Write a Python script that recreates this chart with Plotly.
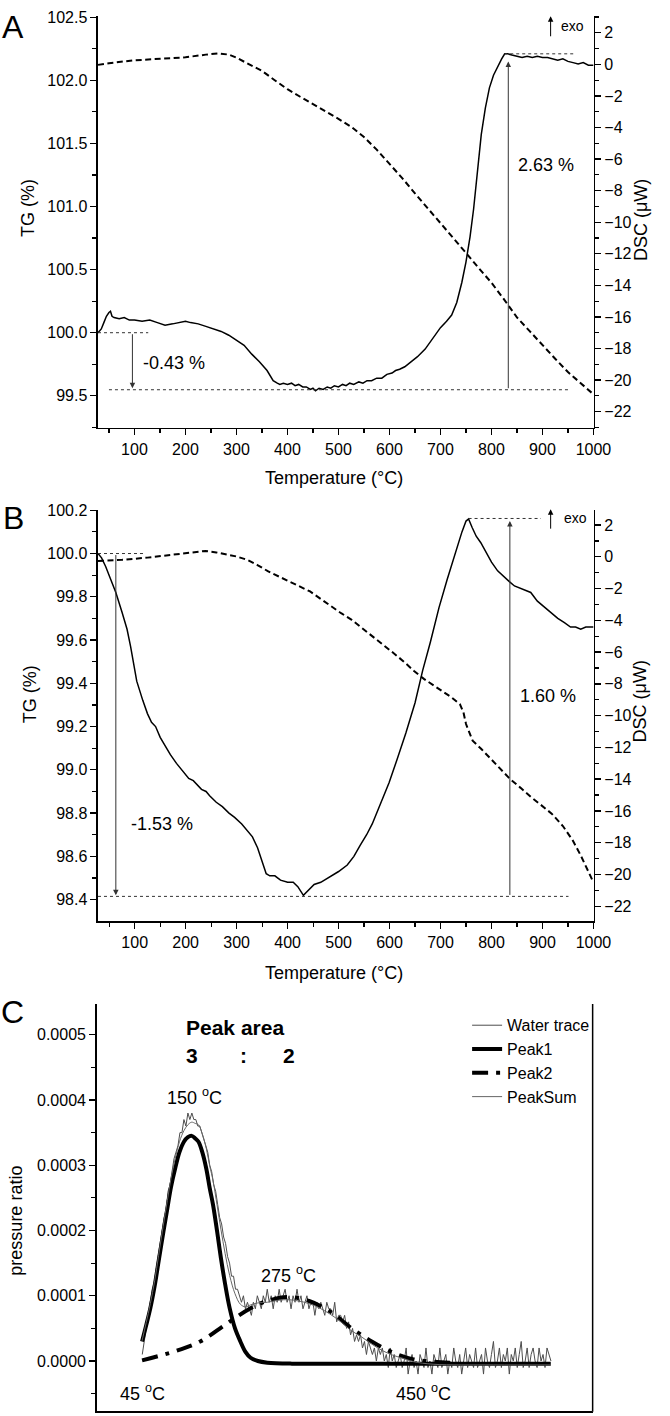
import plotly.graph_objects as go

W, H = 670, 1416
def fx(p):
    return p / W
def fy(p):
    return 1 - p / H

# ---------------- Panel A ----------------
a_temp_tg = [28.5, 35, 40, 45, 50, 53, 56, 60, 70, 80, 90, 100, 115, 130, 145, 160, 175, 190, 200, 210,
             225, 240, 255, 270, 285, 300, 315, 330, 345, 360, 372, 380, 385, 392, 400, 408, 415, 422, 430, 437,
             445, 450, 455, 462, 470, 478, 485, 492, 500, 508, 515, 522, 530, 540, 548, 556, 565, 575, 585, 595,
             605, 612, 620, 630, 640, 655, 670, 685, 700, 712, 722, 732, 742, 750, 758,
             765, 772, 780, 788, 796, 804, 812, 820, 826, 832, 840, 850, 860, 870, 880, 890, 900, 910, 920, 930,
             940, 950, 960, 970, 980, 990, 1000]
a_tg = [100.00, 100.03, 100.08, 100.13, 100.16, 100.17, 100.13, 100.12, 100.11, 100.12, 100.10, 100.10, 100.09, 100.10, 100.08, 100.06, 100.07, 100.08, 100.09, 100.08,
        100.07, 100.05, 100.03, 100.01, 99.98, 99.94, 99.90, 99.83, 99.77, 99.70, 99.62, 99.60, 99.59, 99.60, 99.59, 99.60, 99.58, 99.59, 99.57, 99.57,
        99.55, 99.56, 99.54, 99.56, 99.55, 99.57, 99.56, 99.58, 99.57, 99.59, 99.58, 99.60, 99.59, 99.61, 99.60, 99.62, 99.62, 99.64, 99.64, 99.67,
        99.68, 99.70, 99.71, 99.73, 99.76, 99.81, 99.87, 99.96, 100.04, 100.09, 100.14, 100.24, 100.40, 100.56, 100.76,
        100.98, 101.25, 101.57, 101.78, 101.94, 102.04, 102.11, 102.17, 102.21, 102.21, 102.20, 102.19, 102.18, 102.19, 102.18, 102.19, 102.18, 102.18, 102.17, 102.16,
        102.17, 102.15, 102.14, 102.13, 102.14, 102.12, 102.12]
a_temp_dsc = [28.5, 50, 100, 150, 200, 240, 265, 285, 300, 325, 350, 375, 400, 425, 450, 475, 500, 525, 550, 575,
              600, 625, 650, 675, 700, 725, 750, 775, 800, 825, 850, 875, 900, 925, 950, 975, 1000]
a_dsc = [-0.03, 0.08, 0.26, 0.36, 0.45, 0.62, 0.70, 0.62, 0.43, 0.00, -0.41, -1.00, -1.57, -2.05, -2.51, -2.98, -3.45, -3.95, -4.60, -5.40,
         -6.28, -7.20, -8.17, -9.10, -10.05, -11.00, -11.94, -12.90, -13.83, -14.90, -16.03, -16.90, -17.81, -18.65, -19.49, -20.20, -20.90]

# ---------------- Panel B ----------------
b_temp_tg = [28, 35, 43, 50, 63, 75, 85, 92, 104, 116, 125, 133, 141, 150, 157, 170, 182, 195, 206, 215,
             231, 240, 247, 260, 272, 285, 296, 310, 321, 331, 341, 350, 358, 365, 375, 386, 400, 411, 420, 431,
             440, 452, 465, 485, 500, 517, 530, 542, 555, 566, 580, 599, 615, 632, 650, 665, 680, 697, 713, 730,
             742, 750, 755, 762, 770, 779, 790, 800, 812, 825, 835, 845, 855, 865, 877, 890, 900, 910, 920, 930,
             943, 955, 965, 975, 985, 1000]
b_tg = [100.00, 99.98, 99.94, 99.90, 99.82, 99.73, 99.65, 99.57, 99.41, 99.32, 99.26, 99.22, 99.20, 99.15, 99.12, 99.07, 99.03, 98.99, 98.96, 98.95,
        98.91, 98.90, 98.88, 98.85, 98.83, 98.80, 98.78, 98.75, 98.72, 98.69, 98.64, 98.58, 98.52, 98.51, 98.51, 98.49, 98.48, 98.48, 98.46, 98.42,
        98.44, 98.47, 98.48, 98.51, 98.53, 98.56, 98.60, 98.65, 98.70, 98.75, 98.83, 98.94, 99.05, 99.17, 99.31, 99.46, 99.59, 99.75, 99.88, 100.01,
        100.10, 100.15, 100.16, 100.12, 100.08, 100.05, 100.00, 99.96, 99.92, 99.89, 99.87, 99.85, 99.84, 99.83, 99.82, 99.78, 99.76, 99.74, 99.72, 99.70,
        99.68, 99.66, 99.66, 99.65, 99.66, 99.66]
b_temp_dsc = [28, 75, 125, 175, 223, 239, 260, 280, 300, 321, 340, 362, 385, 403, 425, 444, 465, 485, 505, 525,
              545, 566, 585, 607, 628, 648, 668, 689, 705, 722, 738, 745, 750, 757, 763, 780, 795, 815, 836, 857,
              877, 898, 918, 940, 959, 975, 985, 1000]
b_dsc = [-0.26, -0.19, -0.05, 0.12, 0.29, 0.37, 0.28, 0.16, 0.02, -0.19, -0.50, -0.92, -1.27, -1.55, -1.88, -2.18, -2.65, -3.12, -3.55, -3.95,
         -4.45, -5.00, -5.50, -6.04, -6.60, -7.19, -7.70, -8.13, -8.50, -8.86, -9.28, -9.80, -10.53, -11.10, -11.58, -12.10, -12.62, -13.30, -13.98, -14.55,
         -15.12, -15.65, -16.17, -16.95, -17.84, -18.80, -19.50, -20.50]

# ---------------- Panel C (values in units of 1e-5) ----------------
C_UNIT = 1e-5
c_trace_x0 = 9.2
c_trace_dx = 0.4
c_trace = [1, 3, 5, 7, 9, 11, 12, 14, 16, 18,
           20, 22, 23, 26, 27, 29, 31, 32, 33, 35,
           35, 37, 36, 38, 37, 38, 37, 37, 36, 36,
           35, 34, 33, 32, 30, 29, 27, 26, 24, 22,
           21, 19, 18, 16, 15, 13, 13, 11, 11, 10,
           9, 10, 8, 9, 8, 7, 9, 8, 10, 9,
           8, 10, 9, 11, 9, 10, 8, 10, 9, 11,
           9, 10, 11, 9, 10, 8, 10, 9, 11, 9,
           10, 8, 9, 10, 8, 9, 9, 7, 9, 8,
           9, 8, 7, 9, 8, 8, 7, 9, 6, 7,
           7, 6, 7, 5, 6, 4, 5, 3, 4, 3,
           4, 2, 3, 1, 3, 2, 1, 2, 0, 2,
           1, 2, 0, 1, -1, 2, 0, 1, -1, 0,
           1, -1, 0, 2, -2, 0, 1, -1, 0, -2,
           1, 0, -1, 2, -1, 0, -2, 1, 0, -1,
           2, -1, 0, 1, -2, 0, -1, 2, 0, -1,
           1, -2, 0, 2, -1, 1, 0, -1, 2, -1,
           0, 1, -2, 2, 0, -1, 1, 3, -1, 0,
           2, -1, 1, 0, 2, -2, 1, 0, 2, -1,
           1, 3, -1, 0, 2, -1, 1, 2, 0, -1,
           2, 0, 1, -1, 2, 1, 0]
c_trace_xs = [c_trace_x0 + i * c_trace_dx for i in range(len(c_trace))]

c_peak1_x = [9.16, 10.0, 10.83, 11.7, 12.5, 13.4, 14.26, 15.0, 15.83, 16.7, 17.6, 18.4, 19.17, 19.9, 20.54, 21.3,
             22.1, 22.8, 23.48, 24.3, 25.05, 25.9, 26.82, 27.9, 28.98, 30.0, 31.04, 32.5, 34.41, 39.38, 50, 70, 91.56]
c_peak1 = [3.0, 5.5, 8.1, 11.5, 15.3, 19.5, 23.4, 26.7, 29.5, 32.0, 33.6, 34.3, 34.5, 34.1, 33.6, 32.0,
           29.5, 26.5, 23.9, 19.8, 15.8, 11.8, 8.1, 5.0, 3.0, 1.4, 0.5, 0.0, -0.25, -0.4, -0.4, -0.4, -0.4]

c_peak2_x = [9.16, 15.83, 20.9, 26.0, 31.04, 34.41, 38.59, 42.83, 47.03, 51.25, 55.46, 59.7, 63.9, 68.0, 72.0]
c_peak2 = [0.1, 1.5, 3.0, 5.6, 8.1, 9.2, 9.8, 9.2, 7.6, 5.1, 3.0, 1.3, 0.25, -0.1, -0.3]

c_sum_x = [9.16, 10.0, 10.83, 11.7, 12.5, 13.4, 14.26, 15.0, 15.83, 16.7, 17.6, 18.4, 19.17, 19.9, 20.54, 21.3,
           22.1, 22.8, 23.48, 24.3, 25.05, 25.9, 26.82, 27.9, 28.98, 30.0, 31.04, 32.5, 34.41, 36.5, 38.59, 40.7,
           42.83, 45.0, 47.03, 49.1, 51.25, 53.4, 55.46, 57.6, 59.7, 61.8, 63.9, 68.0, 80.0, 91.56]
c_sum = [3.1, 5.9, 8.8, 12.3, 16.2, 20.6, 24.6, 28.0, 31.0, 33.6, 35.3, 36.2, 36.6, 36.4, 36.2, 34.8,
         32.6, 29.9, 27.6, 23.8, 20.2, 16.5, 13.1, 10.3, 8.7, 8.3, 8.6, 8.9, 9.0, 9.3, 9.4, 9.2,
         8.8, 8.1, 7.2, 6.1, 4.7, 3.7, 2.6, 1.6, 0.9, 0.4, -0.1, -0.5, -0.6, -0.6]

def scale(v):
    return [x * C_UNIT for x in v]

FONT = "Arial, Liberation Sans, sans-serif"
fig = go.Figure()

solid = dict(color="black", width=1.5)
dashed = dict(color="black", width=2, dash="6px,3.5px")

fig.add_trace(go.Scatter(x=a_temp_tg, y=a_tg, xaxis="x", yaxis="y", mode="lines", line=solid, showlegend=False))
fig.add_trace(go.Scatter(x=a_temp_dsc, y=a_dsc, xaxis="x", yaxis="y2", mode="lines", line=dashed, showlegend=False))
fig.add_trace(go.Scatter(x=b_temp_tg, y=b_tg, xaxis="x2", yaxis="y3", mode="lines", line=solid, showlegend=False))
fig.add_trace(go.Scatter(x=b_temp_dsc, y=b_dsc, xaxis="x2", yaxis="y4", mode="lines", line=dashed, showlegend=False))

fig.add_trace(go.Scatter(x=c_trace_xs, y=scale(c_trace), xaxis="x3", yaxis="y5", mode="lines",
                         line=dict(color="#4d4d4d", width=1), name="Water trace"))
fig.add_trace(go.Scatter(x=c_peak1_x, y=scale(c_peak1), xaxis="x3", yaxis="y5", mode="lines",
                         line=dict(color="black", width=4, shape="spline"), name="Peak1"))
fig.add_trace(go.Scatter(x=c_peak2_x, y=scale(c_peak2), xaxis="x3", yaxis="y5", mode="lines",
                         line=dict(color="black", width=4, dash="16px,8px,4px,8px", shape="spline"), name="Peak2"))
fig.add_trace(go.Scatter(x=c_sum_x, y=scale(c_sum), xaxis="x3", yaxis="y5", mode="lines",
                         line=dict(color="#666666", width=1, shape="spline"), name="PeakSum"))

axis_common = dict(showline=True, linecolor="black", linewidth=1.5, ticks="outside", ticklen=6,
                   tickwidth=1.3, tickcolor="black", showgrid=False, zeroline=False,
                   tickfont=dict(family=FONT, size=16, color="black"))

def minor(d):
    return dict(dtick=d, ticks="outside", ticklen=4, tickwidth=1.2, tickcolor="black", showgrid=False)

xdom = [fx(100.7), fx(610)]
domA = [fy(422.3), fy(8)]
domB = [fy(918.3), fy(505)]
domC = [fy(1411.7), fy(1001.7)]

fig.update_layout(
    width=W, height=H, margin=dict(l=0, r=0, t=0, b=0),
    paper_bgcolor="white", plot_bgcolor="white",
    font=dict(family=FONT, color="black"),
    hovermode=False,
    xaxis=dict(domain=xdom, anchor="y", range=[28.5, 1000.3], dtick=100, tick0=0, minor=minor(50), **axis_common),
    yaxis=dict(domain=domA, anchor="x", range=[99.2455, 102.51], dtick=0.5, tick0=0, tickformat=".1f", minor=minor(0.25), **axis_common),
    yaxis2=dict(overlaying="y", side="right", anchor="x", range=[-23.03, 3.07], dtick=2, tick0=0, minor=minor(1), **axis_common),
    xaxis2=dict(domain=xdom, anchor="y3", range=[28, 1000.3], dtick=100, tick0=0, minor=minor(50), **axis_common),
    yaxis3=dict(domain=domB, anchor="x2", range=[98.3007, 100.2005], dtick=0.2, tick0=0, tickformat=".1f", minor=minor(0.1), **axis_common),
    yaxis4=dict(overlaying="y3", side="right", anchor="x2", range=[-22.94, 2.94], dtick=2, tick0=0, minor=minor(1), **axis_common),
    xaxis3=dict(domain=[fx(99.3), fx(609)], anchor="y5", range=[0, 100], showline=True, linecolor="black",
                linewidth=1.5, ticks="", showticklabels=False, showgrid=False, zeroline=False),
    yaxis5=dict(domain=domC, anchor="x3", range=[-0.0000777, 0.000547], dtick=0.0001, tick0=0, tickformat=".4f",
                minor=minor(0.00005), **axis_common),
    legend=dict(x=fx(480), y=fy(1006), xanchor="left", yanchor="top", bgcolor="rgba(0,0,0,0)",
                font=dict(family=FONT, size=16, color="black"), tracegroupgap=0, itemwidth=30),
)

# right and bottom border of panel C
shapes = [dict(type="line", xref="x3 domain", yref="y5 domain", x0=1, x1=1, y0=0, y1=1,
               line=dict(color="black", width=1.5)),
          dict(type="line", xref="x3 domain", yref="y5 domain", x0=0, x1=1, y0=0, y1=0,
               line=dict(color="black", width=1.5))]

dot = dict(color="#333333", width=1, dash="dot")
def hline(xr, yr, x0, x1, y):
    return dict(type="line", xref=xr, yref=yr, x0=x0, x1=x1, y0=y, y1=y, line=dot)

shapes += [
    hline("x", "y", 28.5, 127, 100.0),
    hline("x", "y", 50, 950, 99.548),
    hline("x", "y", 825, 964, 102.21),
    hline("x2", "y3", 28, 120, 100.0),
    hline("x2", "y3", 28, 951, 98.415),
    hline("x2", "y3", 755, 897, 100.162),
]
fig.update_layout(shapes=shapes)

ann = []
def arrow(xr, yr, x, y0, y1, color="#333333"):
    return dict(xref=xr, yref=yr, axref=xr, ayref=yr, x=x, y=y1, ax=x, ay=y0, text="",
                showarrow=True, arrowhead=2, arrowsize=1.1, arrowwidth=1, arrowcolor=color)
def txt(xr, yr, x, y, s, size=18, **kw):
    d = dict(xref=xr, yref=yr, x=x, y=y, text=s, showarrow=False,
             font=dict(family=FONT, size=size, color="black"))
    d.update(kw)
    return d

# Panel A annotations
ann += [
    arrow("x", "y", 96, 100.0, 99.56),
    arrow("x", "y", 833, 99.548, 102.15),
    arrow("x", "y", 916, 102.337, 102.508, color="black"),
    txt("x", "y", 177, 99.76, "-0.43 %"),
    txt("x", "y", 906, 101.33, "2.63 %"),
    txt("x", "y", 959, 102.43, "exo", size=14),
]
# Panel B annotations
ann += [
    arrow("x2", "y3", 63, 100.0, 98.42),
    arrow("x2", "y3", 836, 98.415, 100.15),
    arrow("x2", "y3", 916, 100.108, 100.205, color="black"),
    txt("x2", "y3", 153, 98.75, "-1.53 %"),
    txt("x2", "y3", 910, 99.34, "1.60 %"),
    txt("x2", "y3", 964, 100.163, "exo", size=14),
]

# paper-positioned texts
def ptxt(px, py, s, size=18, **kw):
    d = dict(xref="paper", yref="paper", x=fx(px), y=fy(py), text=s, showarrow=False,
             xanchor="center", yanchor="middle", font=dict(family=FONT, size=size, color="black"))
    d.update(kw)
    return d

ann += [
    ptxt(13, 19, "A", size=32),
    ptxt(14, 513, "B", size=32),
    ptxt(13, 1010, "C", size=32),
    ptxt(343, 473, "Temperature (°C)"),
    ptxt(343, 970, "Temperature (°C)"),
    ptxt(29, 201, "TG (%)", textangle=-90),
    ptxt(31, 690, "TG (%)", textangle=-90),
    ptxt(658, 213, "DSC (μW)", textangle=-90),
    ptxt(658, 697, "DSC (μW)", textangle=-90),
    ptxt(17, 1220, "pressure ratio", textangle=-90),
    ptxt(241, 1025, "<b>Peak area</b>", size=21),
    ptxt(197, 1053, "<b>3</b>", size=21),
    ptxt(250, 1053, "<b>:</b>", size=21),
    ptxt(297, 1053, "<b>2</b>", size=21),
    ptxt(200, 1095, "150 <sup>o</sup>C"),
    ptxt(296, 1274, "275 <sup>o</sup>C"),
    ptxt(146, 1392, "45 <sup>o</sup>C"),
    ptxt(435, 1392, "450 <sup>o</sup>C"),
]
fig.update_layout(annotations=ann)

# no modebar; remove the browser's default 8px body margin so the figure fills the window exactly
fig.write_html("out.html", config={"displayModeBar": False, "staticPlot": True},
               post_script="document.body.style.margin='0px';")
